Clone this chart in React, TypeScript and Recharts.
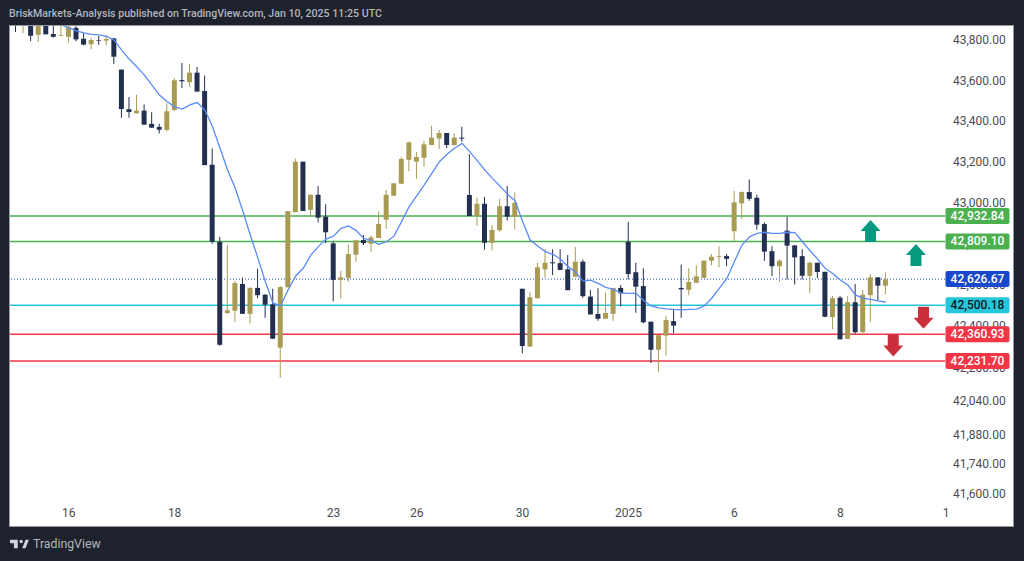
import { Bar, Cell, ComposedChart, Line, ReferenceDot, ReferenceLine, XAxis, YAxis } from "recharts"

const opens = [
  43900, 43870, 43880, 43826, 43890, 43830, 43821, 43816, 43860, 43806,
  43779, 43800, 43797, 43808, 43653, 43457, 43437, 43450, 43385, 43370,
  43355, 43453, 43601, 43591, 43638, 43547, 43184, 42808, 42463, 42474,
  42603, 42459, 42584, 42551, 42505, 42296, 42587, 42952, 43199, 42963,
  43037, 42930, 42800, 42623, 42633, 42745, 42816, 42798, 42826, 42915,
  43032, 43091, 43208, 43199, 43218, 43281, 43313, 43340, 43281, 43317,
  43036, 42933, 42993, 42803, 42864, 42981, 42930, 42580, 42301, 42534,
  42674, 42708, 42704, 42674, 42638, 42711, 42542, 42458, 42435, 42459,
  42584, 42808, 42660, 42593, 42421, 42286, 42354, 42424, 42584, 42575,
  42609, 42632, 42716, 42734, 42738, 42859, 42995, 43050, 43022, 42894,
  42762, 42689, 42862, 42790, 42738, 42642, 42706, 42662, 42443, 42537,
  42338, 42515, 42371, 42549, 42635, 42595,
]
const highs = [
  43925, 43910, 43900, 43900, 43890, 43890, 43890, 43890, 43880, 43835,
  43811, 43820, 43825, 43811, 43653, 43518, 43528, 43480, 43442, 43385,
  43487, 43610, 43686, 43681, 43666, 43624, 43264, 42832, 42792, 42619,
  42635, 42587, 42677, 42555, 42580, 42593, 42958, 43215, 43199, 43037,
  43080, 42990, 42808, 42666, 42795, 42815, 42841, 42838, 42957, 43060,
  43093, 43222, 43297, 43246, 43302, 43375, 43355, 43340, 43340, 43370,
  43235, 43022, 43027, 42889, 43017, 43080, 43049, 42580, 42566, 42706,
  42771, 42771, 42771, 42743, 42782, 42722, 42574, 42582, 42561, 42584,
  42598, 42904, 42706, 42679, 42421, 42356, 42448, 42480, 42697, 42679,
  42694, 42716, 42748, 42786, 42748, 43055, 43053, 43112, 43037, 42901,
  42786, 42722, 42930, 42792, 42771, 42711, 42706, 42662, 42545, 42546,
  42544, 42603, 42574, 42651, 42637, 42660,
]
const lows = [
  43840, 43835, 43795, 43790, 43828, 43811, 43820, 43787, 43794, 43774,
  43754, 43777, 43775, 43681, 43415, 43415, 43437, 43381, 43366, 43337,
  43347, 43448, 43562, 43567, 43544, 43182, 42798, 42305, 42458, 42421,
  42459, 42413, 42534, 42440, 42339, 42152, 42587, 42952, 42958, 42930,
  42901, 42800, 42520, 42534, 42614, 42711, 42792, 42758, 42826, 42871,
  43032, 43091, 43152, 43114, 43174, 43281, 43261, 43266, 43276, 43297,
  42933, 42886, 42769, 42765, 42857, 42911, 42868, 42269, 42301, 42534,
  42633, 42646, 42671, 42573, 42638, 42537, 42456, 42426, 42435, 42426,
  42494, 42625, 42464, 42413, 42222, 42181, 42258, 42365, 42440, 42549,
  42609, 42632, 42694, 42684, 42689, 42810, 42919, 43008, 42866, 42716,
  42642, 42614, 42625, 42600, 42625, 42558, 42632, 42442, 42384, 42336,
  42338, 42363, 42357, 42421, 42521, 42553,
]
const closes = [
  43880, 43900, 43821, 43880, 43828, 43816, 43825, 43866, 43803, 43777,
  43800, 43797, 43805, 43717, 43458, 43443, 43450, 43381, 43366, 43356,
  43447, 43600, 43595, 43638, 43544, 43182, 42808, 42310, 42476, 42607,
  42459, 42584, 42549, 42503, 42339, 42588, 42957, 43199, 42958, 43037,
  42925, 42854, 42623, 42635, 42748, 42815, 42801, 42829, 42894, 43037,
  43093, 43212, 43294, 43222, 43284, 43317, 43340, 43281, 43317, 43312,
  42933, 42993, 42803, 42865, 42981, 42930, 42998, 42304, 42539, 42684,
  42706, 42703, 42671, 42573, 42711, 42544, 42456, 42435, 42463, 42584,
  42558, 42651, 42590, 42418, 42286, 42356, 42429, 42402, 42577, 42613,
  42640, 42716, 42735, 42738, 42725, 43000, 43050, 43017, 42891, 42760,
  42689, 42716, 42789, 42732, 42643, 42706, 42661, 42445, 42534, 42336,
  42515, 42370, 42551, 42635, 42595, 42625,
]
// moving average, starts off the top of the chart
const maStart = 6
const maValues = [
  43875, 43860, 43846, 43836,
  43828, 43825, 43818, 43800, 43750, 43704, 43667, 43626, 43576, 43527,
  43495, 43469, 43458, 43478, 43490, 43453, 43372, 43265, 43158, 43070,
  42959, 42841, 42729, 42614, 42510, 42498, 42574, 42642, 42679, 42743,
  42784, 42821, 42835, 42873, 42885, 42862, 42824, 42813, 42795, 42808,
  42835, 42906, 42979, 43031, 43085, 43142, 43199, 43235, 43265, 43289,
  43248, 43204, 43158, 43117, 43080, 43040, 43008, 42906, 42816, 42787,
  42760, 42747, 42724, 42687, 42660, 42617, 42622, 42606, 42587, 42577,
  42560, 42558, 42558, 42523, 42497, 42488, 42483, 42480, 42478, 42480,
  42482, 42497, 42534, 42582, 42630, 42711, 42792, 42832, 42849, 42854,
  42849, 42849, 42854, 42852, 42808, 42764, 42724, 42679, 42654, 42622,
  42598, 42550, 42534, 42529, 42521, 42516,
]

const slotCount = 124
const tickIndexes = [7, 21, 42, 53, 67, 81, 95, 109, 123]
const tickLabels = ["16", "18", "23", "26", "30", "2025", "6", "8", "1"]
const priceTicks = [43800, 43600, 43400, 43200, 43000, 42800, 42600, 42400, 42200, 42040, 41880, 41740, 41600]

const levels = [42932.84, 42809.1, 42500.18, 42360.93, 42231.7]
const levelColors = ["#4caf50", "#4caf50", "#26c6da", "#f23645", "#f23645"]
const levelText = ["#ffffff", "#ffffff", "#131722", "#ffffff", "#ffffff"]
const lastPrice = 42626.67

const arrowSlots = [113, 119, 120, 116]
const arrowPrices = [42860, 42743, 42440, 42307]
const arrowUp = [true, true, false, false]

const GOLD = "#a99b52"
const NAVY = "#232f4f"
const PRICE_DOMAIN = [41570.6, 43869.7]
const X_PADDING = { left: 2, right: -5 }
const MARGIN = { top: 0, right: 0, bottom: 0, left: 0 }

const rows = Array.from({ length: slotCount }, (_, i) => ({
  idx: i,
  body: opens[i] === undefined ? null : [Math.min(opens[i], closes[i]), Math.max(opens[i], closes[i])],
  wick: highs[i] === undefined ? null : [lows[i], highs[i]],
  ma: i >= maStart && maValues[i - maStart] !== undefined ? maValues[i - maStart] : null,
}))

const candleColor = (i: number) => (closes[i] >= opens[i] ? GOLD : NAVY)
const fmt = (v: number) =>
  v.toLocaleString("en-US", { minimumFractionDigits: 2, maximumFractionDigits: 2 })

function PriceTag({ viewBox, value, fill, color }: any) {
  const y = viewBox.y
  const x = viewBox.x + viewBox.width
  return (
    <g>
      <rect x={x + 0.5} y={y - 8} width={64} height={16} rx={2} fill={fill} />
      <text x={x + 32.5} y={y + 4} textAnchor="middle" fontSize={12} fontWeight={500} fontFamily="Roboto" fill={color}>
        {fmt(value)}
      </text>
    </g>
  )
}

function Arrow({ cx, cy, up }: any) {
  const d = up ? 1 : -1
  const pts = [
    [0, -11 * d],
    [10, 0],
    [5.5, 0],
    [5.5, 11 * d],
    [-5.5, 11 * d],
    [-5.5, 0],
    [-10, 0],
  ]
  return <polygon points={pts.map((p) => `${cx + p[0]},${cy + p[1]}`).join(" ")} fill={up ? "#089981" : "#cc2f3c"} />
}

export default function App() {
  const tick = { fill: "#4a4d55", fontSize: 12, fontFamily: "Roboto" }
  return (
    <div style={{ position: "absolute", left: 0, top: 0, width: 1024, height: 561, background: "#1e222d", overflow: "hidden" }}>
      <div style={{ position: "absolute", left: 9, top: 7, color: "#b2b5be", fontSize: 10.6, fontWeight: 500, fontFamily: "Roboto", whiteSpace: "nowrap" }}>
        BriskMarkets-Analysis published on TradingView.com, Jan 10, 2025 11:25 UTC
      </div>
      <div style={{ position: "absolute", left: 10, top: 26, width: 1003, height: 500, background: "#fff", outline: "1px solid #9598a1" }}>
        {/* bottom layer: axes and level lines, so the candles and price tags sit above them */}
        <div style={{ position: "absolute", left: 0, top: 0 }}>
          <ComposedChart width={1003} height={500} data={rows} margin={MARGIN}>
            <XAxis
              dataKey="idx"
              xAxisId="main"
              scale="band"
              height={26}
              axisLine={false}
              tickLine={false}
              ticks={tickIndexes}
              interval={0}
              padding={X_PADDING}
              tick={tick}
              tickMargin={2}
              tickFormatter={(v: number) => tickLabels[tickIndexes.indexOf(v)]}
            />
            <YAxis
              orientation="right"
              width={68}
              scale="log"
              domain={PRICE_DOMAIN}
              allowDataOverflow
              ticks={priceTicks}
              interval={0}
              axisLine={false}
              tickLine={false}
              tick={tick}
              tickMargin={2}
              tickFormatter={fmt}
            />
            <Line xAxisId="main" dataKey="ma" stroke="none" dot={false} isAnimationActive={false} />
            <ReferenceLine xAxisId="main" y={lastPrice} stroke="#1848cc" strokeDasharray="1 2" />
            {levels.map((v, i) => (
              <ReferenceLine key={v} xAxisId="main" y={v} stroke={levelColors[i]} strokeWidth={1.5} />
            ))}
          </ComposedChart>
        </div>
        <div style={{ position: "absolute", left: 0, top: 0 }}>
          <ComposedChart width={1003} height={500} data={rows} margin={MARGIN} barGap={0}>
            <XAxis dataKey="idx" xAxisId="main" height={26} axisLine={false} tickLine={false} tick={false} padding={X_PADDING} />
            <XAxis dataKey="idx" xAxisId="wick" hide padding={X_PADDING} />
            <YAxis orientation="right" width={68} scale="log" domain={PRICE_DOMAIN} allowDataOverflow axisLine={false} tickLine={false} tick={false} />
            <Bar xAxisId="wick" dataKey="wick" barSize={1} isAnimationActive={false}>
              {rows.map((r) => (
                <Cell key={r.idx} fill={candleColor(r.idx)} />
              ))}
            </Bar>
            <Bar xAxisId="main" dataKey="body" barSize={5} isAnimationActive={false}>
              {rows.map((r) => (
                <Cell key={r.idx} fill={candleColor(r.idx)} />
              ))}
            </Bar>
            <Line xAxisId="main" dataKey="ma" stroke="#5b8cf5" strokeWidth={1.3} dot={false} type="linear" isAnimationActive={false} />
            <ReferenceLine xAxisId="main" y={lastPrice} stroke="none" label={<PriceTag value={lastPrice} fill="#1848cc" color="#ffffff" />} />
            {levels.map((v, i) => (
              <ReferenceLine key={v} xAxisId="main" y={v} stroke="none" label={<PriceTag value={v} fill={levelColors[i]} color={levelText[i]} />} />
            ))}
            {arrowSlots.map((s, i) => (
              <ReferenceDot key={s} xAxisId="main" x={s} y={arrowPrices[i]} shape={<Arrow up={arrowUp[i]} />} />
            ))}
          </ComposedChart>
        </div>
      </div>
      <svg style={{ position: "absolute", left: 10, top: 537 }} width={20} height={14} viewBox="0 3 36 21">
        <path d="M14 6H0v6h7v9h7V6ZM28 21h-6l6-15h6l-6 15ZM20 12a3 3 0 1 0 0-6 3 3 0 0 0 0 6Z" fill="#d1d4dc" />
      </svg>
      <div style={{ position: "absolute", left: 33, top: 537, color: "#b2b5be", fontSize: 12.3, fontFamily: "Roboto", whiteSpace: "nowrap" }}>TradingView</div>
    </div>
  )
}
